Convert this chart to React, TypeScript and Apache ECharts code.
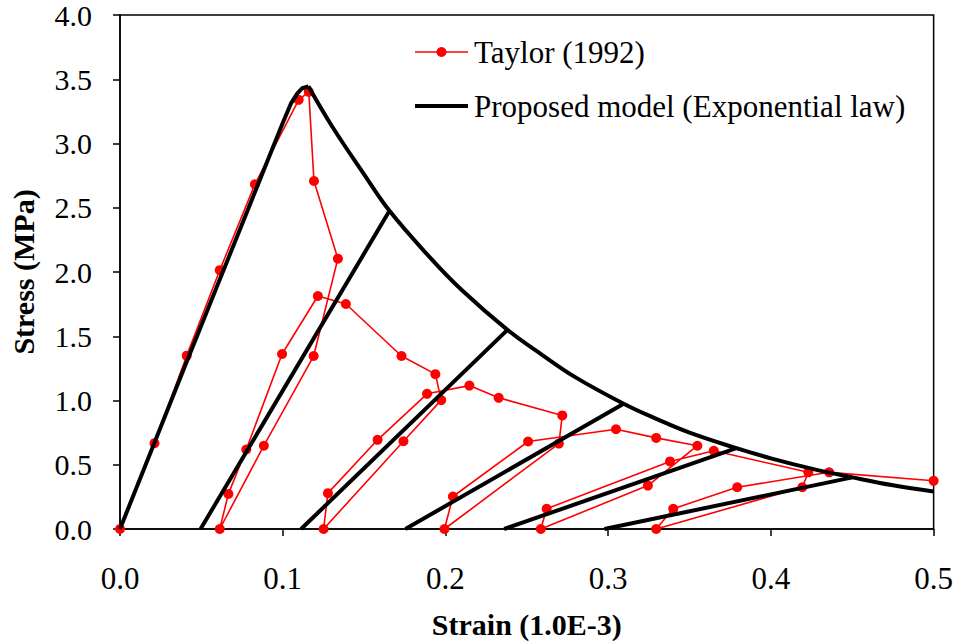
import React, { useEffect, useRef } from "react";
import * as echarts from "echarts";

// Taylor (1992) experimental data, strain (1.0E-3) and stress (MPa)
const taylorStrain = [
  0, 0.0212, 0.041, 0.0613, 0.0829, 0.1098, 0.116, 0.1192, 0.1339, 0.119, 0.0884, 0.0613,
  0.0666, 0.0776, 0.0996, 0.1216, 0.1388, 0.173, 0.1938, 0.1974, 0.1742, 0.1251,
  0.1278, 0.1583, 0.1887, 0.2147, 0.2327, 0.2718, 0.2697, 0.1994,
  0.2046, 0.2508, 0.3048, 0.3295, 0.3548, 0.3244, 0.2586,
  0.2622, 0.338, 0.3649, 0.423, 0.4193, 0.3295,
  0.34, 0.3793, 0.4358, 0.5,
];
const taylorStress = [
  0, 0.668, 1.349, 2.014, 2.682, 3.34, 3.402, 2.708, 2.104, 1.346, 0.648, 0,
  0.273, 0.619, 1.362, 1.813, 1.751, 1.346, 1.205, 1.003, 0.683, 0,
  0.279, 0.694, 1.052, 1.116, 1.021, 0.884, 0.665, 0,
  0.253, 0.681, 0.776, 0.709, 0.648, 0.338, 0,
  0.157, 0.526, 0.609, 0.441, 0.325, 0,
  0.157, 0.325, 0.441, 0.375,
];

// Proposed model envelope: ascending branch (up to the peak)
const riseStrain = [0, 0.02, 0.04, 0.06, 0.08, 0.1, 0.105, 0.109, 0.112, 0.1158];
const riseStress = [0, 0.635, 1.27, 1.9, 2.53, 3.16, 3.31, 3.39, 3.43, 3.445];

// Proposed model envelope: softening branch (from the peak)
const softStrain = [
  0.1158, 0.13, 0.15, 0.1656, 0.19, 0.21, 0.2381, 0.26, 0.28, 0.3095, 0.33, 0.35, 0.3788,
  0.4, 0.425, 0.4501, 0.475, 0.5,
];
const softStress = [
  3.445, 3.14, 2.76, 2.476, 2.12, 1.86, 1.55, 1.35, 1.18, 0.975, 0.855, 0.75, 0.629,
  0.55, 0.47, 0.402, 0.34, 0.292,
];

// Proposed model unloading/reloading branches: start strain at zero stress, end on envelope
const unloadStartStrain = [0.0495, 0.1113, 0.1754, 0.2361, 0.2977];
const unloadEndStrain = [0.1656, 0.2381, 0.3095, 0.3788, 0.4501];
const unloadEndStress = [2.476, 1.55, 0.975, 0.629, 0.402];

const xTicks = [0, 0.1, 0.2, 0.3, 0.4, 0.5];
const yTicks = [0, 0.5, 1, 1.5, 2, 2.5, 3, 3.5, 4];

const TAYLOR = "Taylor (1992)";
const MODEL = "Proposed model (Exponential law)";
const FONT = "Liberation Serif";

export default function App() {
  const ref = useRef<HTMLDivElement>(null);
  useEffect(() => {
    if (!ref.current) return;
    const chart = echarts.init(ref.current, undefined, { renderer: "svg" });
    const modelStyle = {
      type: "line",
      name: MODEL,
      showSymbol: false,
      symbol: "none",
      lineStyle: { color: "#000", width: 4 },
      itemStyle: { color: "#000" },
      z: 3,
    };
    const series: any[] = [
      {
        type: "line",
        name: TAYLOR,
        data: taylorStrain.map((x, i) => [x, taylorStress[i]]),
        symbol: "circle",
        symbolSize: 10,
        lineStyle: { color: "#ff0000", width: 1.6 },
        itemStyle: { color: "#ff0000" },
        z: 2,
      },
      {
        ...modelStyle,
        data: riseStrain.map((x, i) => [x, riseStress[i]]),
      },
      {
        ...modelStyle,
        smooth: 0.4,
        data: softStrain.map((x, i) => [x, softStress[i]]),
      },
      ...unloadStartStrain.map((x0, i) => ({
        ...modelStyle,
        data: [
          [x0, 0],
          [unloadEndStrain[i], unloadEndStress[i]],
        ],
      })),
    ];
    const legendX = 415;
    const legendW = 53;
    const legendY1 = 52;
    const legendY2 = 106;
    chart.setOption({
      animation: false,
      backgroundColor: "#fff",
      textStyle: { fontFamily: FONT },
      grid: {
        left: 117,
        right: 21,
        top: 15,
        bottom: 112,
        show: true,
        borderColor: "#000",
        borderWidth: 1.5,
        backgroundColor: "transparent",
      },
      legend: { show: false },
      graphic: [
        {
          type: "line",
          shape: { x1: legendX, y1: legendY1, x2: legendX + legendW, y2: legendY1 },
          style: { stroke: "#ff0000", lineWidth: 1.6 },
          z: 100,
        },
        {
          type: "circle",
          shape: { cx: legendX + legendW / 2, cy: legendY1, r: 5 },
          style: { fill: "#ff0000" },
          z: 100,
        },
        {
          type: "text",
          x: legendX + legendW + 6,
          y: legendY1,
          style: {
            text: TAYLOR,
            fontFamily: FONT,
            fontSize: 31,
            fill: "#000",
            verticalAlign: "middle",
          },
          z: 100,
        },
        {
          type: "line",
          shape: { x1: legendX, y1: legendY2, x2: legendX + legendW, y2: legendY2 },
          style: { stroke: "#000", lineWidth: 4 },
          z: 100,
        },
        {
          type: "text",
          x: legendX + legendW + 6,
          y: legendY2,
          style: {
            text: MODEL,
            fontFamily: FONT,
            fontSize: 31,
            fill: "#000",
            verticalAlign: "middle",
          },
          z: 100,
        },
      ],
      xAxis: {
        type: "value",
        min: xTicks[0],
        max: xTicks[xTicks.length - 1],
        interval: 0.1,
        name: "Strain (1.0E-3)",
        nameLocation: "middle",
        nameGap: 80,
        nameTextStyle: { fontFamily: FONT, fontSize: 30, fontWeight: "bold", color: "#000" },
        axisLine: { show: true, lineStyle: { color: "#000", width: 1.5 } },
        axisTick: { show: true, length: 7, lineStyle: { color: "#000", width: 1.5 } },
        axisLabel: {
          fontFamily: FONT,
          fontSize: 31,
          color: "#000",
          margin: 34,
          formatter: (v: number) => v.toFixed(1),
        },
        splitLine: { show: false },
      },
      yAxis: {
        type: "value",
        min: yTicks[0],
        max: yTicks[yTicks.length - 1],
        interval: 0.5,
        name: "Stress (MPa)",
        nameLocation: "middle",
        nameGap: 82,
        nameTextStyle: { fontFamily: FONT, fontSize: 30, fontWeight: "bold", color: "#000" },
        axisLine: { show: true, lineStyle: { color: "#000", width: 1.5 } },
        axisTick: { show: true, length: 7, lineStyle: { color: "#000", width: 1.5 } },
        axisLabel: {
          fontFamily: FONT,
          fontSize: 30,
          color: "#000",
          margin: 28,
          formatter: (v: number) => v.toFixed(1),
        },
        splitLine: { show: false },
      },
      series,
    });
    return () => chart.dispose();
  }, []);
  return (
    <div
      ref={ref}
      style={{ position: "fixed", left: 0, top: 0, width: 956, height: 644, background: "#fff" }}
    />
  );
}
